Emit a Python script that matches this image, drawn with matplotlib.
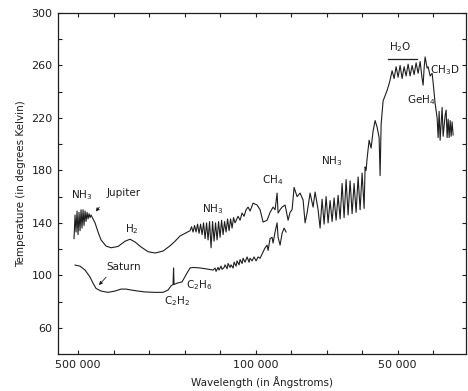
import matplotlib
matplotlib.use("Agg")
import matplotlib.pyplot as plt

plt.rcParams['font.family'] = ['DejaVu Sans']
plt.rcParams['mathtext.default'] = 'regular'

# x positions: evenly spaced tick grid (one tick step = 35.5 units)
tick_step = 35.5
tick_labels = ["500 000", "", "", "", "", "100 000", "", "", "", "50 000", ""]

jupiter = [
    (-4, 128), (-3, 146), (-2, 133), (-1, 149), (0, 131), (1, 148), (2, 134), (3, 150),
    (4, 136), (5, 150), (6, 138), (7, 149), (8, 141), (9, 148), (10, 143), (11, 147),
    (12, 144), (13, 146), (17, 140), (20, 133), (23, 127), (28, 122.3), (33, 121),
    (40, 122), (47, 126), (52, 127.5), (57, 125.4), (63, 121.6), (70, 118), (77, 117),
    (85, 118.5), (92, 122.5), (97, 126), (102, 130), (107, 132), (112, 134),
    (113.5, 137), (115, 133), (116.5, 138), (118, 133), (119.5, 139), (121, 132),
    (122.5, 139), (124, 131), (125.5, 140), (127, 128), (128.5, 140), (130, 127),
    (131.5, 141), (133, 121), (134.5, 141), (136, 126), (137.5, 140), (139, 127),
    (140.5, 141), (142, 129), (143.5, 142), (145, 131), (146.5, 141), (148, 133),
    (149.5, 143), (151, 134), (152.5, 143), (154, 136), (155.5, 144),
    (157, 140), (160, 145), (162, 142), (164, 147.5), (166, 145), (168, 150), (170, 152),
    (172, 149), (175, 155), (179, 153.6), (182, 150), (185, 140.6), (189, 142), (192, 148),
    (195, 152), (197, 150), (199, 162.7), (200, 147.5), (202, 150), (204, 152),
    (207, 153.6), (210, 142), (212, 148), (214, 150), (216, 167), (219, 160), (222, 162.7),
    (225, 157.4), (227, 140), (229, 147.5), (232, 162.7), (235, 152), (237, 163.5),
    (240, 150), (242, 136), (244, 158), (246, 139), (248, 160), (250, 140), (252, 157),
    (254, 141), (256, 159), (258, 142), (260, 161), (262, 143), (264, 170), (266, 144),
    (268, 173), (270, 146), (272, 172), (274, 147), (276, 170), (278, 148), (280, 175),
    (282, 150), (284, 178), (286, 151), (287, 182.6), (288, 180), (289, 189), (291, 203),
    (293, 197), (295, 210), (297, 218), (299, 213), (301, 205), (302, 176), (303, 215),
    (305, 233), (307, 237), (309, 241), (311, 246), (312, 249), (314, 256), (316, 250),
    (318, 259), (320, 251), (322, 260), (324, 250), (326, 259), (328, 252), (330, 261),
    (332, 252), (334, 260), (336, 253), (338, 262), (340, 254), (342, 263), (344, 250),
    (345, 245), (346, 258), (347, 266.5), (349, 258), (350, 259), (352, 252), (354, 254),
    (355, 247), (357, 231), (359, 220), (360, 205), (361, 225), (362, 203), (364, 228),
    (365, 206), (367, 222), (368, 226), (369, 205), (370, 219), (371, 205), (372, 218),
    (373, 206), (374, 217), (375, 207),
]

saturn = [
    (-3, 107.8), (2, 107), (7, 104), (12, 98.7), (15, 94), (18, 90), (23, 88), (30, 87),
    (37, 88), (43, 89.5), (48, 89.5), (53, 88.8), (60, 88), (67, 87.3), (77, 87), (85, 87),
    (90, 88.8), (93, 92), (95, 93), (95.5, 105.6), (96, 93), (99, 94), (104, 95),
    (109, 101.8), (112, 105.6), (115, 106), (122, 105.6), (129, 104.8), (135, 104),
    (137, 105.5), (138, 103), (140, 106), (141, 104), (143, 107), (144, 104.5), (146, 106),
    (147, 108), (149, 105), (150, 109), (152, 106), (153, 108), (155, 105.5), (156, 110),
    (158, 107), (159, 111), (161, 108), (162, 112), (164, 109), (165, 113), (167, 110),
    (169, 114), (171, 110), (172, 113), (174, 111), (176, 114), (178, 111), (180, 114),
    (182, 113), (185, 117.8), (187, 121), (189, 123), (190, 119), (192, 128), (194, 129),
    (195, 124.6), (197, 133), (199, 140), (200, 129), (202, 123), (204, 132), (206, 136),
    (208, 133),
]

# annotation texts: (x, temperature, text)
labels = [
    (4, 161, "NH$_3$"),
    (46, 162.7, "Jupiter"),
    (54, 135, "H$_2$"),
    (135, 150.6, "NH$_3$"),
    (195, 172.7, "CH$_4$"),
    (254, 187, "NH$_3$"),
    (322, 274, "H$_2$O"),
    (343, 233.7, "GeH$_4$"),
    (46, 106.3, "Saturn"),
    (121, 92.6, "C$_2$H$_6$"),
    (99, 80.4, "C$_2$H$_2$"),
]

fig = plt.figure(figsize=(4.68, 3.91), dpi=100)
ax = fig.add_axes([0.124, 0.0946, 0.872, 0.8722])

ink = "#1e1e1e"
jx, jy = zip(*jupiter)
sx, sy = zip(*saturn)
ax.plot(jx, jy, color=ink, lw=0.8)
ax.plot(sx, sy, color=ink, lw=0.8)

for x, y, t in labels:
    ax.text(x, y, t, ha="center", va="center", fontsize=7.5, color=ink)
ax.text(352, 256.5, "CH$_3$D", ha="left", va="center", fontsize=7.5, color=ink)

# H2O bar
ax.plot([310, 339], [265, 265], color=ink, lw=0.9)
# arrows
ax.annotate("", xy=(16, 147), xytext=(23, 153.6),
            arrowprops=dict(arrowstyle="-|>", color=ink, lw=0.6, mutation_scale=5))
ax.annotate("", xy=(19, 91), xytext=(30, 100.2),
            arrowprops=dict(arrowstyle="-|>", color=ink, lw=0.6, mutation_scale=5))

ax.set_xlim(-20, 388)
ax.set_ylim(40, 300)
ax.set_xticks([i * tick_step for i in range(len(tick_labels))])
ax.set_xticklabels(tick_labels)
ax.set_yticks([60, 100, 140, 180, 220, 260, 300])
ax.set_yticks([80, 120, 160, 200, 240, 280], minor=True)
ax.tick_params(which="both", direction="in", top=True, right=True, length=3,
               width=0.8, labelsize=8, colors=ink, pad=4)
for s in ax.spines.values():
    s.set_linewidth(0.9)
    s.set_color(ink)

ax.set_xlabel("Wavelength (in Ångstroms)", fontsize=7.5, color=ink, labelpad=5)
ax.set_ylabel("Temperature (in degrees Kelvin)", fontsize=7.5, color=ink, labelpad=4)

fig.savefig("out.png", dpi=100)
